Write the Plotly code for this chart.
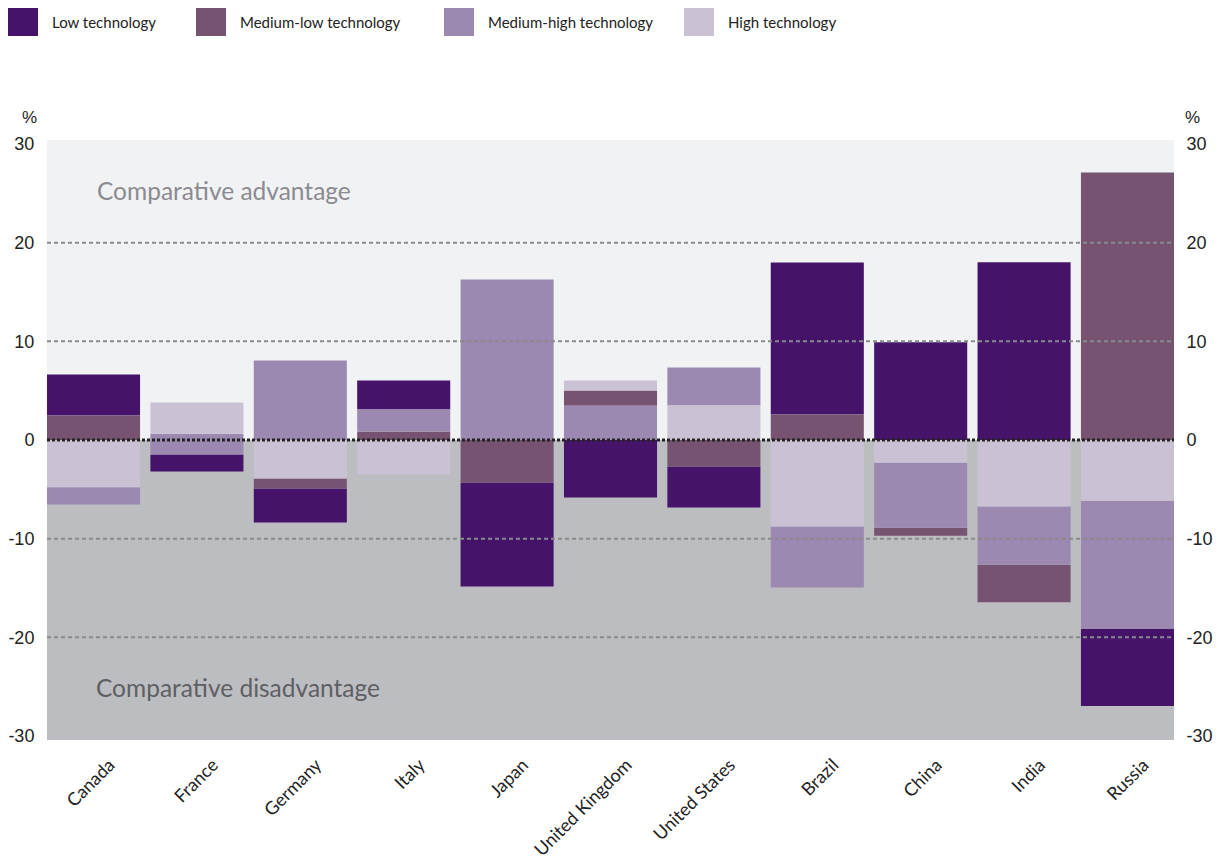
import plotly.graph_objects as go

countries = ["Canada", "France", "Germany", "Italy", "Japan", "United Kingdom",
             "United States", "Brazil", "China", "India", "Russia"]

low_tech = [4.15, -1.72, -3.44, 2.94, -10.54, -5.83, -4.15, 15.4, 9.9, 18.0, -7.8]
medium_low_tech = [2.48, 0.0, -1.01, 0.86, -4.31, 1.55, -2.68, 2.58, -0.8, -3.8, 27.1]
medium_high_tech = [-1.75, -2.1, 8.05, 2.23, 16.26, 3.47, 3.85, -6.18, -6.6, -5.9, -13.0]
high_tech = [-4.78, 3.17, -3.9, -3.47, 0.0, 1.01, 3.5, -8.76, -2.3, -6.75, -6.15]

# bottom of each column, and the order its blocks are piled in (bottom first)
column_bottom = [-6.53, -3.19, -8.35, -3.47, -14.85, -5.83, -6.83, -14.94, -9.7, -16.45, -26.95]
stack_order = ["MH H ML L", "L MH H", "L ML H MH", "H ML MH L", "L ML MH", "L MH ML H",
               "L ML H MH", "MH H ML L", "ML MH H L", "ML MH H L", "L MH H ML"]

y_ticks = [-30, -20, -10, 0, 10, 20, 30]
y_tick_text = ["-30", "-20", "-10", "0", "10", "20", "30"]

series = {
    "L": ("Low technology", low_tech, "#45146a"),
    "ML": ("Medium-low technology", medium_low_tech, "#775372"),
    "MH": ("Medium-high technology", medium_high_tech, "#9b89b2"),
    "H": ("High technology", high_tech, "#cbc1d5"),
}

bases = {k: [0.0] * len(countries) for k in series}
for i, order in enumerate(stack_order):
    level = column_bottom[i]
    for k in order.split():
        bases[k][i] = level
        level += abs(series[k][1][i])

fig = go.Figure()
for k, (name, vals, color) in series.items():
    fig.add_trace(go.Bar(
        x=countries, y=[abs(v) for v in vals], base=bases[k], name=name,
        marker=dict(color=color, line=dict(width=0)), width=0.9, showlegend=False,
        customdata=vals, hovertemplate="%{x}<br>" + name + ": %{customdata}%<extra></extra>",
    ))

# invisible trace so the right-hand axis gets drawn
fig.add_trace(go.Scatter(x=countries[:1], y=[0], yaxis="y2", mode="markers",
                         marker=dict(opacity=0), showlegend=False, hoverinfo="skip"))

# page geometry (px)
W, H = 1224, 860
ML_, MR_, MT_, MB_ = 47, 50, 140, 120
PW, PH = W - ML_ - MR_, H - MT_ - MB_


def px(x):
    return (x - ML_) / PW


def py(y):
    return (H - MB_ - y) / PH


shapes = [
    # lower (disadvantage) half of the plot
    dict(type="rect", xref="paper", yref="paper", x0=0, x1=1, y0=0, y1=0.5,
         fillcolor="#bcbdc1", line=dict(width=0), layer="below"),
]
for g in [-20, -10, 10, 20]:
    shapes.append(dict(type="line", xref="paper", yref="y", x0=0, x1=1, y0=g, y1=g,
                       line=dict(color="#8a8a8c", width=2, dash="4px,3px"), layer="above"))
shapes.append(dict(type="line", xref="paper", yref="y", x0=0, x1=1, y0=0, y1=0,
                   line=dict(color="#222222", width=3, dash="3px,2px"), layer="above"))

annotations = [
    dict(text="Comparative advantage", xref="paper", yref="y", x=px(95), y=25.3,
         xanchor="left", yanchor="middle", showarrow=False,
         font=dict(family="Lato", size=24.5, color="#8b8b8f")),
    dict(text="Comparative disadvantage", xref="paper", yref="y", x=px(94), y=-25.1,
         xanchor="left", yanchor="middle", showarrow=False,
         font=dict(family="Lato", size=24.5, color="#5e5f62")),
    dict(text="%", xref="paper", yref="paper", x=px(29), y=py(117), xanchor="center",
         yanchor="middle", showarrow=False,
         font=dict(family="Liberation Sans", size=17, color="#222222")),
    dict(text="%", xref="paper", yref="paper", x=px(1192), y=py(117), xanchor="center",
         yanchor="middle", showarrow=False,
         font=dict(family="Liberation Sans", size=17, color="#222222")),
]

# legend drawn as boxes + labels
legend_x = [8, 196, 444, 684]
for (k, (name, vals, color)), lx in zip(series.items(), legend_x):
    shapes.append(dict(type="rect", xref="paper", yref="paper", x0=px(lx), x1=px(lx + 30),
                       y0=py(36), y1=py(8), fillcolor=color, line=dict(width=0)))
    annotations.append(dict(text=name, xref="paper", yref="paper", x=px(lx + 42), y=py(22),
                            xanchor="left", yanchor="middle", showarrow=False,
                            font=dict(family="Lato", size=15, color="#222222")))

yrange = [-30.4, 30.4]
tickfont = dict(family="Liberation Sans", size=18, color="#222222")

fig.update_layout(
    width=W, height=H,
    margin=dict(l=ML_, r=MR_, t=MT_, b=MB_, autoexpand=False),
    barmode="overlay",
    paper_bgcolor="white",
    plot_bgcolor="#f1f2f4",
    shapes=shapes,
    annotations=annotations,
    showlegend=False,
    xaxis=dict(range=[-0.45, 10.45], showgrid=False, zeroline=False, showline=False,
               tickangle=-45, ticks="", ticklabelshift=16, ticklabelstandoff=10,
               tickfont=dict(family="Lato", size=18, color="#222222"),
               automargin=False, fixedrange=True),
    yaxis=dict(range=yrange, tickvals=y_ticks, ticktext=y_tick_text, showgrid=False,
               zeroline=False, showline=False, ticks="outside", ticklen=8,
               tickcolor="rgba(0,0,0,0)", tickfont=tickfont, automargin=False,
               fixedrange=True),
    yaxis2=dict(range=yrange, tickvals=y_ticks, ticktext=y_tick_text, overlaying="y",
                side="right", showgrid=False, zeroline=False, showline=False,
                ticks="outside", ticklen=8, tickcolor="rgba(0,0,0,0)", tickfont=tickfont,
                automargin=False, fixedrange=True),
)

fig.write_html("out.html", config={"displayModeBar": False},
               post_script="document.body.style.margin = '0';")
